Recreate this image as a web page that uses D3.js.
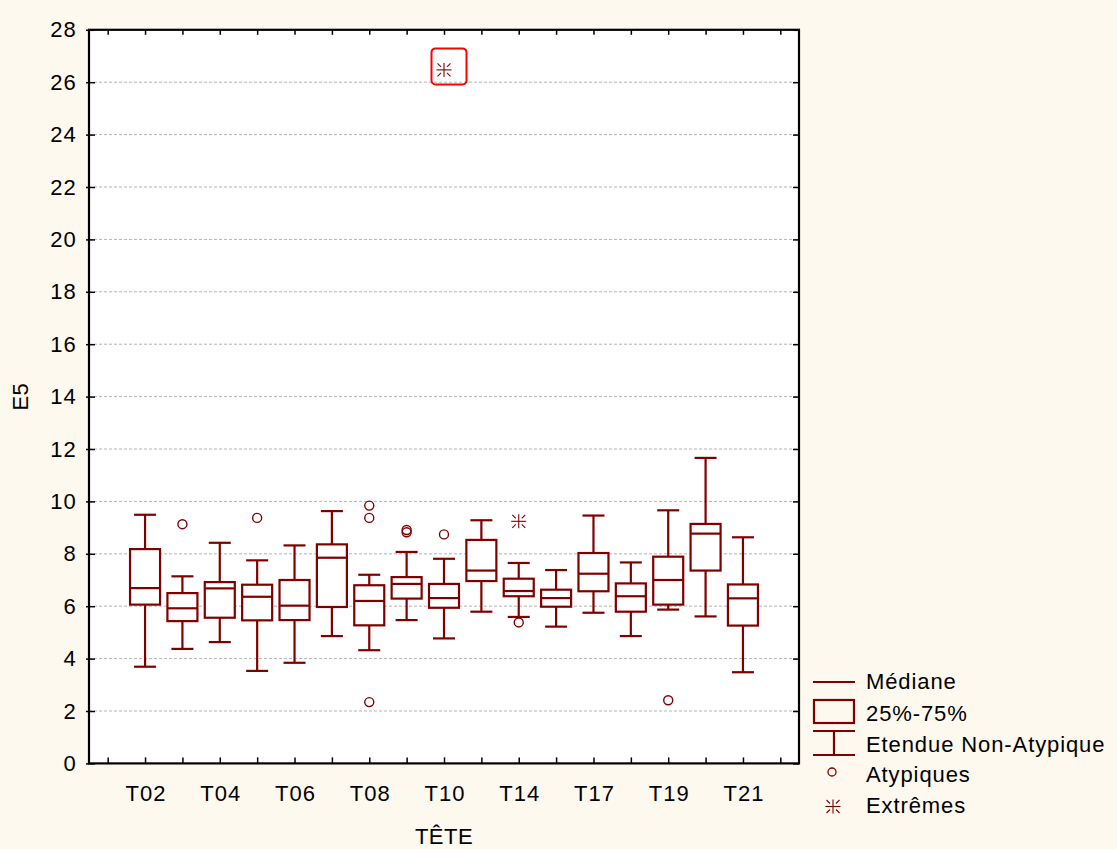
<!DOCTYPE html>
<html>
<head>
<meta charset="utf-8">
<script src="https://cdn.jsdelivr.net/npm/d3@7"></script>
<style>
  html, body { margin: 0; padding: 0; background: #FDF9EE; }
  svg { display: block; }
  text { font-family: "Liberation Sans", Arial, sans-serif; fill: #000; }
</style>
</head>
<body>
<svg id="chart" width="1117" height="849"></svg>
<script>
// ---- data ----
const categories = ["T02","T03","T04","T05","T06","T07","T08","T09","T10","T12","T14","T16","T17","T18","T19","T20","T21"];
const tickLabels = ["T02","T04","T06","T08","T10","T14","T17","T19","T21"];
const whiskerLow  = [3.69, 4.37, 4.63, 3.53, 3.84, 4.86, 4.32, 5.47, 4.77, 5.79, 5.59, 5.22, 5.75, 4.86, 5.87, 5.61, 3.48];
const q1          = [6.06, 5.43, 5.56, 5.46, 5.47, 5.97, 5.27, 6.29, 5.94, 6.96, 6.38, 5.98, 6.57, 5.79, 6.06, 7.36, 5.26];
const medians     = [6.69, 5.92, 6.68, 6.36, 6.02, 7.85, 6.20, 6.85, 6.31, 7.36, 6.58, 6.31, 7.24, 6.38, 7.00, 8.77, 6.30];
const q3          = [8.18, 6.50, 6.92, 6.82, 7.00, 8.36, 6.80, 7.11, 6.85, 8.53, 7.05, 6.63, 8.03, 6.87, 7.89, 9.14, 6.83];
const whiskerHigh = [9.49, 7.14, 8.42, 7.75, 8.32, 9.63, 7.20, 8.07, 7.81, 9.28, 7.65, 7.38, 9.46, 7.67, 9.66, 11.66, 8.63];
const outlierCats = ["T03","T05","T08","T08","T08","T09","T09","T10","T14","T19"];
const outlierVals = [9.13, 9.37, 9.84, 9.37, 2.34, 8.91, 8.82, 8.74, 5.38, 2.41];
const extremeCats = ["T10","T14"];
const extremeVals = [26.47, 9.24];
const highlightedCat = "T10";
const highlightedVal = 26.47;
const yTicks = d3.range(0, 29, 2);
const legendLabels = ["Médiane", "25%-75%", "Etendue Non-Atypique", "Atypiques", "Extrêmes"];

// ---- layout ----
const color = "#800000";
const svg = d3.select("#chart");
const pL = 89, pR = 799, pT = 29.8, pB = 763.4;

const slots = ["__L"].concat(categories, ["__R"]);
const x = d3.scalePoint().domain(slots).range([pL, pR]).padding(0.5);
const y = d3.scaleLinear().domain([0, 28]).range([pB, pT]);

// plot background
svg.append("rect").attr("x", pL).attr("y", pT).attr("width", pR - pL).attr("height", pB - pT).attr("fill", "#fff");

// grid
svg.append("g").selectAll("line").data(yTicks.filter(d => d > 0 && d < 28)).join("line")
  .attr("x1", pL).attr("x2", pR).attr("y1", d => y(d)).attr("y2", d => y(d))
  .attr("stroke", "#b4b4b4").attr("stroke-width", 1).attr("stroke-dasharray", "3,2");

// axes
const yAxisL = d3.axisLeft(y).tickValues(yTicks).tickSize(0).tickPadding(12).tickFormat(d3.format("d"));
const gL = svg.append("g").attr("transform", `translate(${pL},0)`).call(yAxisL);
gL.select(".domain").remove();
gL.selectAll("text").attr("font-size", 22).attr("letter-spacing", "1.2px").attr("font-family", "Liberation Sans, Arial, sans-serif");
gL.selectAll(".tick").append("line").attr("x1", -3).attr("x2", 6).attr("stroke", "#000").attr("stroke-width", 1.5);

const gR = svg.append("g").attr("transform", `translate(${pR},0)`).call(d3.axisRight(y).tickValues(yTicks).tickSize(0).tickFormat(""));
gR.select(".domain").remove();
gR.selectAll(".tick").append("line").attr("x1", -6).attr("x2", 0).attr("stroke", "#000").attr("stroke-width", 1.5);

const gB = svg.append("g").attr("transform", `translate(0,${pB})`)
  .call(d3.axisBottom(x).tickValues(slots).tickSize(0).tickPadding(22).tickFormat(d => tickLabels.includes(d) ? d : ""));
gB.select(".domain").remove();
gB.selectAll("text").attr("font-size", 22).attr("letter-spacing", "1px").attr("dx", "0.5").attr("font-family", "Liberation Sans, Arial, sans-serif");
gB.selectAll(".tick").append("line").attr("y1", 0).attr("y2", -6).attr("stroke", "#000").attr("stroke-width", 1.5);

const gT = svg.append("g").attr("transform", `translate(0,${pT})`)
  .call(d3.axisTop(x).tickValues(slots).tickSize(0).tickFormat(""));
gT.select(".domain").remove();
gT.selectAll(".tick").append("line").attr("y1", 0).attr("y2", 5).attr("stroke", "#000").attr("stroke-width", 1.5);

// frame
svg.append("rect").attr("x", pL).attr("y", pT).attr("width", pR - pL).attr("height", pB - pT)
  .attr("fill", "none").attr("stroke", "#000").attr("stroke-width", 2.2);

// axis titles
svg.append("text").attr("transform", `translate(28,${(pT + pB) / 2}) rotate(-90)`)
  .attr("text-anchor", "middle").attr("font-size", 22).attr("letter-spacing", "0.5px").text("E5");
svg.append("text").attr("x", (pL + pR) / 2).attr("y", 844)
  .attr("text-anchor", "middle").attr("font-size", 22).attr("letter-spacing", "0.5px").text("TÊTE");

// boxes
const boxW = 30, capW = 22;
const boxes = svg.append("g").attr("stroke", color).attr("stroke-width", 2.2).attr("fill", "none");
categories.forEach((c, i) => {
  const cx = x(c);
  const g = boxes.append("g");
  g.append("line").attr("x1", cx).attr("x2", cx).attr("y1", y(q3[i])).attr("y2", y(whiskerHigh[i]));
  g.append("line").attr("x1", cx).attr("x2", cx).attr("y1", y(q1[i])).attr("y2", y(whiskerLow[i]));
  g.append("line").attr("x1", cx - capW / 2).attr("x2", cx + capW / 2).attr("y1", y(whiskerHigh[i])).attr("y2", y(whiskerHigh[i]));
  g.append("line").attr("x1", cx - capW / 2).attr("x2", cx + capW / 2).attr("y1", y(whiskerLow[i])).attr("y2", y(whiskerLow[i]));
  g.append("rect").attr("x", cx - boxW / 2).attr("width", boxW).attr("y", y(q3[i])).attr("height", y(q1[i]) - y(q3[i])).attr("fill", "#fff");
  g.append("line").attr("x1", cx - boxW / 2).attr("x2", cx + boxW / 2).attr("y1", y(medians[i])).attr("y2", y(medians[i]));
});

// outliers
svg.append("g").selectAll("circle").data(outlierVals).join("circle")
  .attr("cx", (d, i) => x(outlierCats[i])).attr("cy", d => y(d)).attr("r", 4.5)
  .attr("fill", "none").attr("stroke", color).attr("stroke-width", 1.4);

// extreme marker
function star(g, cx, cy) {
  const s = g.append("g").attr("stroke", color).attr("stroke-width", 1.1).attr("fill", "none");
  s.append("line").attr("x1", cx - 7.5).attr("x2", cx + 7.5).attr("y1", cy).attr("y2", cy);
  s.append("line").attr("x1", cx).attr("x2", cx).attr("y1", cy - 7).attr("y2", cy + 7);
  [[-1,-1],[1,-1],[-1,1],[1,1]].forEach(([a, b]) => {
    s.append("line").attr("x1", cx + a * 3).attr("y1", cy + b * 3).attr("x2", cx + a * 6.5).attr("y2", cy + b * 6.5);
  });
}
const ex = svg.append("g");
extremeVals.forEach((v, i) => star(ex, x(extremeCats[i]), y(v)));

// highlight box around the top extreme
svg.append("rect").attr("x", x(highlightedCat) - 12.5).attr("y", y(highlightedVal) - 21.5)
  .attr("width", 35).attr("height", 36).attr("rx", 4)
  .attr("fill", "none").attr("stroke", "#ff0000").attr("stroke-width", 2);

// legend
const lg = svg.append("g");
const lx0 = 813, lx1 = 855, lmid = 834, tx = 866;
const base = [689, 721, 752, 782, 813];
lg.append("line").attr("x1", lx0).attr("x2", lx1).attr("y1", 682).attr("y2", 682).attr("stroke", color).attr("stroke-width", 2);
lg.append("rect").attr("x", lx0 + 1).attr("y", 700).attr("width", lx1 - lx0 - 2).attr("height", 23)
  .attr("fill", "none").attr("stroke", color).attr("stroke-width", 2.2);
lg.append("line").attr("x1", lx0).attr("x2", lx1).attr("y1", 731).attr("y2", 731).attr("stroke", color).attr("stroke-width", 2.2);
lg.append("line").attr("x1", lx0).attr("x2", lx1).attr("y1", 755).attr("y2", 755).attr("stroke", color).attr("stroke-width", 2.2);
lg.append("line").attr("x1", lmid).attr("x2", lmid).attr("y1", 731).attr("y2", 755).attr("stroke", color).attr("stroke-width", 2.2);
lg.append("circle").attr("cx", 832).attr("cy", 772).attr("r", 4).attr("fill", "none").attr("stroke", color).attr("stroke-width", 1.3);
star(lg, 833, 806.5);
lg.selectAll("text.lbl").data(legendLabels).join("text").attr("class", "lbl")
  .attr("x", tx).attr("y", (d, i) => base[i]).attr("font-size", 22).attr("letter-spacing", "0.9px").text(d => d);
</script>
</body>
</html>
